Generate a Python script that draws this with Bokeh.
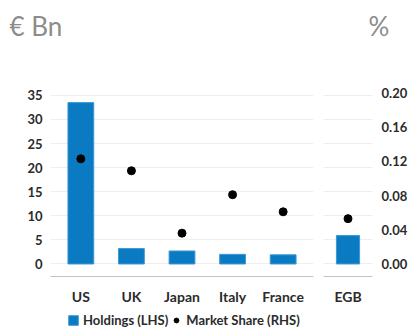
from bokeh.plotting import figure
from bokeh.layouts import row, column
from bokeh.models import (ColumnDataSource, FactorRange, Range1d, LinearAxis, FixedTicker,
                          Grid, Legend, LegendItem, Label, NumeralTickFormatter)
from bokeh.embed import file_html
from bokeh.resources import INLINE

# ---- data ----
countries = ["US", "UK", "Japan", "Italy", "France"]
holdings = [33.5, 3.2, 2.7, 2.0, 1.9]
market_share = [0.123, 0.109, 0.036, 0.081, 0.061]

egb_label = ["EGB"]
egb_holdings = [5.9]
egb_share = [0.053]

left_ticks = [0, 5, 10, 15, 20, 25, 30, 35]
right_ticks = [0.0, 0.04, 0.08, 0.12, 0.16, 0.20]

left_unit = "€ Bn"
right_unit = "%"
legend_labels = ["Holdings (LHS)", "Market Share (RHS)"]

BAR = "#0a7bc3"
BAR_LINE = "#3d98d4"
FONT = "Lato"
TXT = "#2b2b2b"
GRID = "#efefef"
AXLINE = "#c4c4c4"
UNIT_COLOR = "#8c8c8c"

HEAD_H = 62
LEG_H = 22
H = 329 - LEG_H - HEAD_H
TOP = 92 - HEAD_H
BOTTOM = 24
YR = (-2.6, 35.6)
SR = (-0.0147, 0.2006)

src1 = ColumnDataSource(dict(c=countries, h=holdings, s=market_share))
src2 = ColumnDataSource(dict(c=egb_label, h=egb_holdings, s=egb_share))

def bare(width, height):
    f = figure(width=width, height=height, output_backend="svg", toolbar_location=None,
               x_range=Range1d(0, 1), y_range=Range1d(0, 1),
               x_axis_location=None, y_axis_location=None,
               min_border_left=0, min_border_right=0, min_border_top=0, min_border_bottom=0)
    f.outline_line_color = None
    f.grid.visible = False
    return f

# ---- header strip with unit labels ----
p0 = bare(410, HEAD_H)
p0.add_layout(Label(x=9, y=HEAD_H - 25, x_units="screen", y_units="screen", text=left_unit,
                    text_font=FONT, text_font_size="26px", text_color=UNIT_COLOR,
                    text_baseline="middle"))
p0.add_layout(Label(x=368, y=HEAD_H - 25, x_units="screen", y_units="screen", text=right_unit,
                    text_font=FONT, text_font_size="26px", text_color=UNIT_COLOR,
                    text_baseline="middle"))

# ---- left figure ----
p1 = figure(width=318, height=H, output_backend="svg", toolbar_location=None,
            x_range=FactorRange(factors=countries, range_padding=0.1, range_padding_units="absolute"),
            y_range=Range1d(*YR), min_border_left=50, min_border_right=5,
            min_border_top=TOP, min_border_bottom=BOTTOM)
p1.extra_y_ranges = {"share": Range1d(*SR)}
p1.outline_line_color = None
p1.xgrid.visible = False
p1.ygrid.ticker = FixedTicker(ticks=left_ticks)
p1.ygrid.grid_line_color = GRID
p1.yaxis.ticker = FixedTicker(ticks=left_ticks)

p1.vbar(x="c", top="h", width=0.51, source=src1, fill_color=BAR, line_color=BAR_LINE, line_width=1)
p1.scatter(x="c", y="s", source=src1, y_range_name="share", size=8,
           fill_color="black", line_color="black")

for ax in (p1.xaxis[0], p1.yaxis[0]):
    ax.major_tick_line_color = None
    ax.minor_tick_line_color = None
    ax.major_label_text_font = FONT
    ax.major_label_text_font_style = "bold"
    ax.major_label_text_color = TXT
p1.yaxis.axis_line_color = None
p1.yaxis.major_label_text_font_size = "13px"
p1.yaxis.major_label_standoff = 2
p1.xaxis.axis_line_color = AXLINE
p1.xaxis.major_label_text_font_size = "14px"
p1.xaxis.major_label_standoff = 5

# ---- right figure ----
p2 = figure(width=92, height=H, output_backend="svg", toolbar_location=None,
            x_range=FactorRange(factors=egb_label, range_padding=0.05, range_padding_units="absolute"),
            y_range=Range1d(*YR), y_axis_location=None,
            min_border_left=5, min_border_right=32, min_border_top=TOP, min_border_bottom=BOTTOM)
p2.extra_y_ranges = {"share": Range1d(*SR)}
p2.outline_line_color = None
p2.xgrid.visible = False
p2.add_layout(Grid(dimension=1, ticker=FixedTicker(ticks=left_ticks), grid_line_color=GRID))

p2.vbar(x="c", top="h", width=0.52, source=src2, fill_color=BAR, line_color=BAR_LINE, line_width=1)
p2.scatter(x="c", y="s", source=src2, y_range_name="share", size=8,
           fill_color="black", line_color="black")

raxis = LinearAxis(y_range_name="share", ticker=FixedTicker(ticks=right_ticks),
                   formatter=NumeralTickFormatter(format="0.00"))
raxis.axis_line_color = None
raxis.major_tick_line_color = None
raxis.minor_tick_line_color = None
raxis.major_label_text_font = FONT
raxis.major_label_text_font_style = "bold"
raxis.major_label_text_color = TXT
raxis.major_label_text_font_size = "13px"
raxis.major_label_standoff = 3
p2.add_layout(raxis, "right")

p2.xaxis.major_tick_line_color = None
p2.xaxis.minor_tick_line_color = None
p2.xaxis.axis_line_color = AXLINE
p2.xaxis.major_label_text_font = FONT
p2.xaxis.major_label_text_font_style = "bold"
p2.xaxis.major_label_text_color = TXT
p2.xaxis.major_label_text_font_size = "14px"
p2.xaxis.major_label_standoff = 5

# ---- legend strip ----
p3 = bare(410, LEG_H)
leg_bar = p3.vbar(x="h", top="h", width=0.5, source=src1, fill_color=BAR, line_color=BAR_LINE,
                  line_width=1, visible=False)
leg_dot = p3.scatter(x="s", y="s", source=src1, size=8, fill_color="black", line_color="black",
                     visible=False)
legend = Legend(items=[LegendItem(label=legend_labels[0], renderers=[leg_bar]),
                       LegendItem(label=legend_labels[1], renderers=[leg_dot])],
                orientation="horizontal", location=(67, 1), margin=0, padding=0,
                spacing=2, glyph_width=12, glyph_height=12, label_standoff=4,
                label_height=14,
                label_text_font=FONT, label_text_font_size="13px", label_text_color=TXT,
                label_text_font_style="bold",
                border_line_color=None, background_fill_alpha=0)
p3.add_layout(legend, "center")

layout = column(p0, row(p1, p2), p3)
open("out.html", "w").write(file_html(layout, INLINE))
